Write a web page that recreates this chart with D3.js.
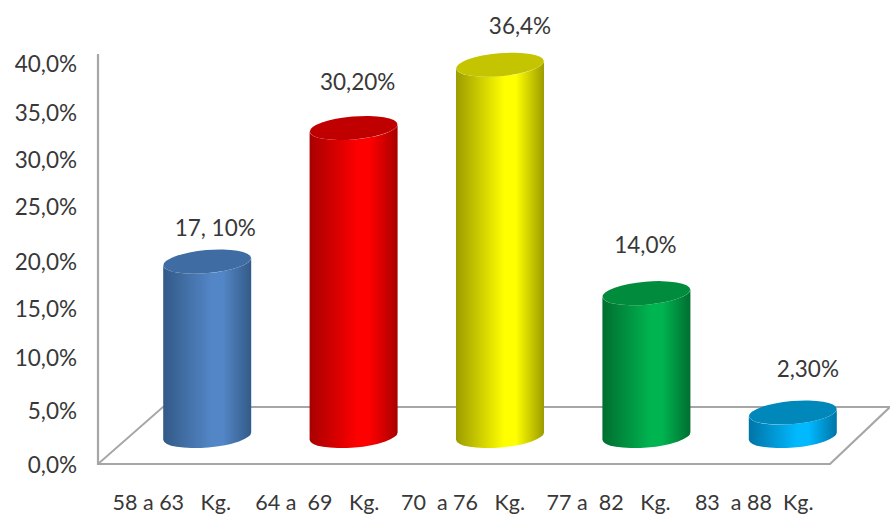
<!DOCTYPE html>
<html>
<head>
<meta charset="utf-8">
<script src="https://cdn.jsdelivr.net/npm/d3@7"></script>
<style>
  html, body { margin: 0; padding: 0; background: #fff; }
  svg { display: block; }
  text { font-family: Lato, sans-serif; fill: #383838; white-space: pre; }
  .tick text { font-size: 22.5px; }
</style>
</head>
<body>
<div id="chart"></div>
<script>
var categories = ["58 a 63   Kg.", "64 a  69   Kg.", "70  a 76   Kg.", "77 a  82   Kg.", "83  a 88  Kg."];
var values = [17.1, 30.2, 36.4, 14.0, 2.3];
var valueLabels = ["17, 10%", "30,20%", "36,4%", "14,0%", "2,30%"];
var tickValues = [0, 5, 10, 15, 20, 25, 30, 35, 40];
var tickLabels = ["0,0%", "5,0%", "10,0%", "15,0%", "20,0%", "25,0%", "30,0%", "35,0%", "40,0%"];
var bodyColors = ["#5386c6", "#ff0000", "#ffff00", "#00b450", "#00b9ff"];
var edgeColors = ["#335a88", "#a80000", "#9c9c00", "#006e30", "#0074a6"];
var capColors = ["#3f6ca2", "#c00000", "#c4c400", "#008c3c", "#0088bb"];

var width = 890, height = 516;

var svg = d3.select("#chart").append("svg")
  .attr("width", width)
  .attr("height", height);

// the printed scale on the wall is slightly uneven, so ticks get their own rows
var tickRows = [465, 411, 358, 309, 262, 207, 160, 113, 64];
var yTicks = d3.scaleLinear().domain(tickValues).range(tickRows);

// cylinders stand on the floor and rise from there
var y = d3.scaleLinear().domain([0, 40]).range([436, 28]);
var x = d3.scaleBand().domain(categories).range([134, 866]);
var xFront = d3.scaleBand().domain(categories).range([99, 827]);

// floor and wall
var floorColor = "#a6a6a6";
var frame = svg.append("g").attr("fill", "none").attr("stroke", floorColor);
frame.append("path")
  .attr("stroke-width", 2.2)
  .attr("d", "M98,54V464H830L890,407");
frame.append("path")
  .attr("stroke-width", 1.8)
  .attr("d", "M98,464L163,407H890");

var yAxis = d3.axisLeft(yTicks)
  .tickValues(tickValues)
  .tickSize(0)
  .tickPadding(0)
  .tickFormat(function(d, i) { return tickLabels[i]; });

var axisG = svg.append("g")
  .attr("transform", "translate(77,0)")
  .call(yAxis);
axisG.select(".domain").remove();
axisG.selectAll("text").attr("dy", "0.35em");

var xAxis = d3.axisBottom(xFront).tickSize(0).tickPadding(0);
var xG = svg.append("g")
  .attr("transform", "translate(0,502)")
  .call(xAxis);
xG.select(".domain").remove();
xG.selectAll("text")
  .attr("dy", "0.35em")
  .attr("y", 0)
  .style("font-size", "21.5px");

// horizontal shading for each cylinder
var defs = svg.append("defs");
categories.forEach(function(c, i) {
  var grad = defs.append("linearGradient")
    .attr("id", "cyl" + i)
    .attr("x1", 0).attr("x2", 1).attr("y1", 0).attr("y2", 0);
  grad.append("stop").attr("offset", "0%").attr("stop-color", edgeColors[i]);
  grad.append("stop").attr("offset", "55%").attr("stop-color", bodyColors[i]);
  grad.append("stop").attr("offset", "68%").attr("stop-color", bodyColors[i]);
  grad.append("stop").attr("offset", "100%").attr("stop-color", edgeColors[i]);
});

var rx = 44, ry = 11.5, tilt = 5;
var dy = rx * Math.sin(tilt * Math.PI / 180);

function bodyPath(d, i) {
  var cx = x(categories[i]) + x.bandwidth() / 2;
  var top = y(d), bottom = y(0);
  return "M" + (cx - rx) + "," + (top + dy) +
    "L" + (cx - rx) + "," + (bottom + dy) +
    "A" + rx + "," + ry + "," + (-tilt) + ",0,0," + (cx + rx) + "," + (bottom - dy) +
    "L" + (cx + rx) + "," + (top - dy) +
    "A" + rx + "," + ry + "," + (-tilt) + ",0,1," + (cx - rx) + "," + (top + dy) + "Z";
}

var bars = svg.selectAll(".bar")
  .data(values)
  .enter().append("g")
  .attr("class", "bar");

bars.append("path")
  .attr("d", bodyPath)
  .attr("fill", function(d, i) { return "url(#cyl" + i + ")"; });

bars.append("ellipse")
  .attr("cx", 0)
  .attr("cy", 0)
  .attr("rx", rx)
  .attr("ry", ry)
  .attr("transform", function(d, i) {
    return "translate(" + (x(categories[i]) + x.bandwidth() / 2) + "," + y(d) + ") rotate(" + (-tilt) + ")";
  })
  .attr("fill", function(d, i) { return capColors[i]; });

// value labels were nudged by hand, each sits at its own offset from the cap
var labelDx = [8, 4, 20, -1, 15];
var labelDy = [-26, -38, -31, -40, -36];

svg.selectAll(".value")
  .data(values)
  .enter().append("text")
  .attr("class", "value")
  .attr("x", function(d, i) { return x(categories[i]) + x.bandwidth() / 2 + labelDx[i]; })
  .attr("y", function(d, i) { return y(d) + labelDy[i]; })
  .attr("text-anchor", "middle")
  .style("font-size", "22.5px")
  .text(function(d, i) { return valueLabels[i]; });
</script>
</body>
</html>
